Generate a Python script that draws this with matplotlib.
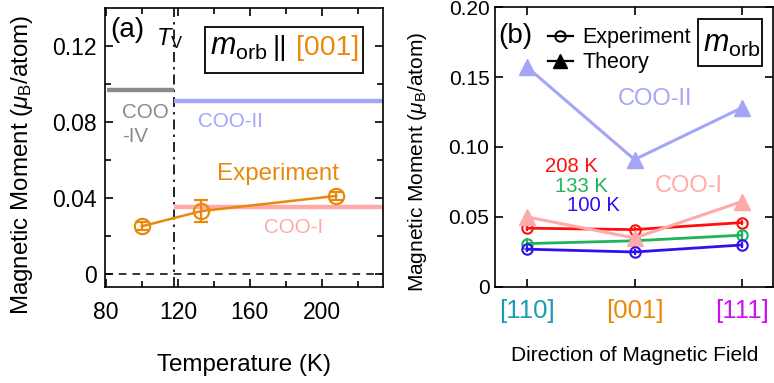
import matplotlib
matplotlib.use("Agg")
import matplotlib.pyplot as plt
from matplotlib.lines import Line2D
from matplotlib.patches import Rectangle

plt.rcParams["font.family"] = ["Liberation Sans", "DejaVu Sans"]
plt.rcParams["mathtext.fontset"] = "custom"
plt.rcParams["mathtext.rm"] = "Liberation Sans"
plt.rcParams["mathtext.it"] = "Liberation Sans:italic"
plt.rcParams["mathtext.bf"] = "Liberation Sans:bold"

# ---- data -------------------------------------------------------------
# (a) orbital moment along [001] vs temperature
temps = [100, 133, 208]
morb_001 = [0.025, 0.033, 0.041]
morb_001_err = [0.002, 0.006, 0.002]
t_verwey = 118
coo_iv_001 = 0.097
coo_ii_001 = 0.091
coo_i_001 = 0.035

# (b) orbital moment vs field direction
directions = ["[110]", "[001]", "[111]"]
exp_208 = [0.042, 0.041, 0.046]
exp_133 = [0.031, 0.033, 0.037]
exp_100 = [0.027, 0.025, 0.030]
err_208 = [0.002, 0.002, 0.002]
err_133 = [0.004, 0.003, 0.004]
err_100 = [0.002, 0.002, 0.002]
theory_coo_ii = [0.157, 0.091, 0.128]
theory_coo_i = [0.050, 0.035, 0.061]

# ---- styling ----------------------------------------------------------
ORANGE = "#e8890c"
GRAY = "#8a8a8a"
LBLUE = "#a3a6f7"
PINK = "#ffaaaa"
RED = "#ff1010"
GREEN = "#1fb45a"
BLUE = "#3010ee"
DIR_COLORS = ["#1a9db0", ORANGE, "#cc11ee"]

fig = plt.figure(figsize=(7.74, 3.83), dpi=100)
ax_a = fig.add_axes([0.1357, 0.2507, 0.3591, 0.7283])
ax_b = fig.add_axes([0.6395, 0.2507, 0.3592, 0.7310])

for ax in (ax_a, ax_b):
    for sp in ax.spines.values():
        sp.set_linewidth(1.2)
    ax.tick_params(which="both", direction="in", top=True, right=True, width=1.2)
    ax.tick_params(which="major", length=6)
    ax.tick_params(which="minor", length=4)


def framed_label(ax, x0, y0, x1, y1):
    """Draw a plain rectangular frame in axes coordinates."""
    ax.add_patch(Rectangle((x0, y0), x1 - x0, y1 - y0, transform=ax.transAxes,
                           fill=False, lw=1.3, ec="black", clip_on=False, zorder=6))


# ---- panel (a) --------------------------------------------------------
ax_a.set_xlim(79.5, 234)
ax_a.set_ylim(-0.007, 0.14)
ax_a.set_xticks([80, 120, 160, 200])
ax_a.set_xticks([100, 140, 180, 220], minor=True)
ax_a.set_yticks([0, 0.04, 0.08, 0.12])
ax_a.set_yticklabels(["0", "0.04", "0.08", "0.12"])
ax_a.set_yticks([0.02, 0.06, 0.10], minor=True)
ax_a.tick_params(axis="x", labelsize=16.5, pad=10)
ax_a.tick_params(axis="y", labelsize=16.5, pad=6)

ax_a.axhline(0, color="black", lw=1.1, ls=(0, (5, 4)))
ax_a.axvline(t_verwey, color="black", lw=1.2, ls=(0, (6, 3, 1.5, 3)))
ax_a.hlines(coo_iv_001, 80.5, t_verwey, color=GRAY, lw=3.2)
ax_a.hlines(coo_ii_001, t_verwey, 234, color=LBLUE, lw=3.2)
ax_a.hlines(coo_i_001, t_verwey, 234, color=PINK, lw=3.2)
ax_a.errorbar(temps, morb_001, yerr=morb_001_err, color=ORANGE, lw=1.8,
              marker="o", ms=11, mfc="none", mew=1.6, capsize=5, capthick=1.6,
              elinewidth=1.6, zorder=5)

ax_a.text(91.7, 0.1247, "(a)", fontsize=20, ha="center", va="baseline")
ax_a.text(108.0, 0.1205, r"$T_{\mathrm{V}}$", fontsize=17, ha="left", va="baseline")
ax_a.text(88.9, 0.0821, "COO", fontsize=14.8, color=GRAY, ha="left", va="baseline")
ax_a.text(88.9, 0.0695, "-IV", fontsize=14.8, color=GRAY, ha="left", va="baseline")
ax_a.text(149.2, 0.0774, "COO-II", fontsize=14.8, color=LBLUE, ha="center", va="baseline")
ax_a.text(175.6, 0.0495, "Experiment", fontsize=17.4, color=ORANGE, ha="center", va="baseline")
ax_a.text(184.2, 0.0216, "COO-I", fontsize=14.8, color=PINK, ha="center", va="baseline")

framed_label(ax_a, 0.360, 0.766, 0.928, 0.933)
ax_a.text(0.378, 0.8315, r"$m_{\mathrm{orb}}$", fontsize=22, transform=ax_a.transAxes,
          ha="left", va="baseline")
ax_a.text(0.603, 0.8315, "||", fontsize=20.5, transform=ax_a.transAxes,
          ha="left", va="baseline")
ax_a.text(0.688, 0.8315, "[001]", fontsize=20.5, color=ORANGE, transform=ax_a.transAxes,
          ha="left", va="baseline")

ax_a.set_xlabel("Temperature (K)", fontsize=17.4)
ax_a.xaxis.label.set_va("center")
ax_a.xaxis.set_label_coords(0.5, -0.28)
ax_a.set_ylabel(r"Magnetic Moment ($\mu_{\mathrm{B}}$/atom)", fontsize=17.4)
ax_a.yaxis.label.set_va("center")
ax_a.yaxis.set_label_coords(-0.299, 0.437)

# ---- panel (b) --------------------------------------------------------
xb = list(range(len(directions)))
ax_b.set_xlim(-0.3, 2.29)
ax_b.set_ylim(0, 0.20)
ax_b.set_xticks(xb)
ax_b.set_xticklabels(directions)
for lab, c in zip(ax_b.get_xticklabels(), DIR_COLORS):
    lab.set_color(c)
ax_b.set_yticks([0, 0.05, 0.10, 0.15, 0.20])
ax_b.set_yticklabels(["0", "0.05", "0.10", "0.15", "0.20"])
ax_b.tick_params(axis="x", labelsize=18.5, pad=9)
ax_b.tick_params(axis="y", labelsize=15, pad=4)

ax_b.plot(xb, theory_coo_ii, color=LBLUE, lw=2.2, marker="^", ms=11, zorder=2)
exp_kw = dict(lw=2.0, marker="o", ms=7.5, mfc="none", mew=1.5, capsize=0,
              elinewidth=1.5)
ax_b.errorbar(xb, exp_208, yerr=err_208, color=RED, zorder=3, **exp_kw)
ax_b.errorbar(xb, exp_133, yerr=err_133, color=GREEN, zorder=3, **exp_kw)
ax_b.plot(xb, theory_coo_i, color=PINK, lw=2.2, marker="^", ms=11, zorder=4)
ax_b.errorbar(xb, exp_100, yerr=err_100, color=BLUE, zorder=5, **exp_kw)

ax_b.text(-0.106, 0.1743, "(b)", fontsize=20, ha="center", va="baseline")
ax_b.text(1.191, 0.1300, "COO-II", fontsize=17, color=LBLUE, ha="center", va="baseline")
ax_b.text(1.505, 0.0679, "COO-I", fontsize=17, color=PINK, ha="center", va="baseline")
ax_b.text(0.408, 0.0821, "208 K", fontsize=14.6, color=RED, ha="center", va="baseline")
ax_b.text(0.508, 0.0681, "133 K", fontsize=14.6, color=GREEN, ha="center", va="baseline")
ax_b.text(0.619, 0.0543, "100 K", fontsize=14.6, color=BLUE, ha="center", va="baseline")

leg_handles = [
    Line2D([], [], color="black", lw=1.6, marker="o", ms=7.5, mfc="none", mew=1.4),
    Line2D([], [], color="black", lw=1.6, marker="^", ms=10),
]
ax_b.legend(leg_handles, ["Experiment", "Theory"], loc="upper left",
            bbox_to_anchor=(0.19, 0.928), frameon=False, fontsize=15.5,
            handlelength=1.15, handletextpad=0.45, labelspacing=0.2,
            borderpad=0, borderaxespad=0)

framed_label(ax_b, 0.729, 0.789, 0.960, 0.957)
ax_b.text(0.748, 0.840, r"$m_{\mathrm{orb}}$", fontsize=22, transform=ax_b.transAxes,
          ha="left", va="baseline")

ax_b.set_xlabel("Direction of Magnetic Field", fontsize=15)
ax_b.xaxis.label.set_va("center")
ax_b.xaxis.set_label_coords(0.504, -0.243)
ax_b.set_ylabel(r"Magnetic Moment ($\mu_{\mathrm{B}}$/atom)", fontsize=15)
ax_b.yaxis.label.set_va("center")
ax_b.yaxis.set_label_coords(-0.277, 0.446)

fig.savefig("out.png", dpi=100)
